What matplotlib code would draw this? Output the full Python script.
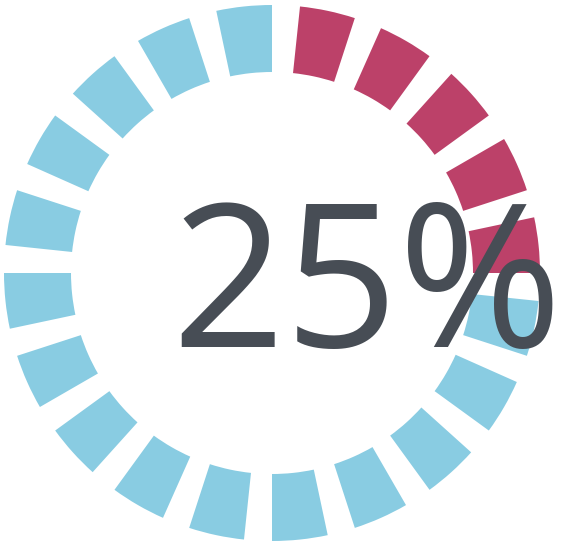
import matplotlib.pyplot as plt

# chart values
percent = 25
n_segments = 20
label = '25%'

seg_deg = 12   # angular width of one block
gap_deg = 6    # angular gap between blocks

blue = '#89cce2'
red = '#bc4169'
text_color = '#474d55'

n_filled = round(n_segments * percent / 100)

values = []
colors = []
for i in range(n_segments):
    values.append(gap_deg)
    colors.append('none')
    values.append(seg_deg)
    colors.append(red if i < n_filled else blue)

fig = plt.figure(figsize=(5.68, 5.46), dpi=100)
ax = fig.add_axes([0, 0, 1, 1])

outer = 268
inner = 201
ax.pie(values, colors=colors, startangle=90, counterclock=False,
       center=(272, 273), radius=outer,
       wedgeprops=dict(width=outer - inner, linewidth=0))

ax.text(367, 199, label, fontsize=143, family='Open Sans',
        color=text_color, ha='center', va='baseline')

ax.set_xlim(0, 568)
ax.set_ylim(0, 546)
ax.set_aspect('equal')
ax.axis('off')

fig.savefig('out.png', dpi=100)
